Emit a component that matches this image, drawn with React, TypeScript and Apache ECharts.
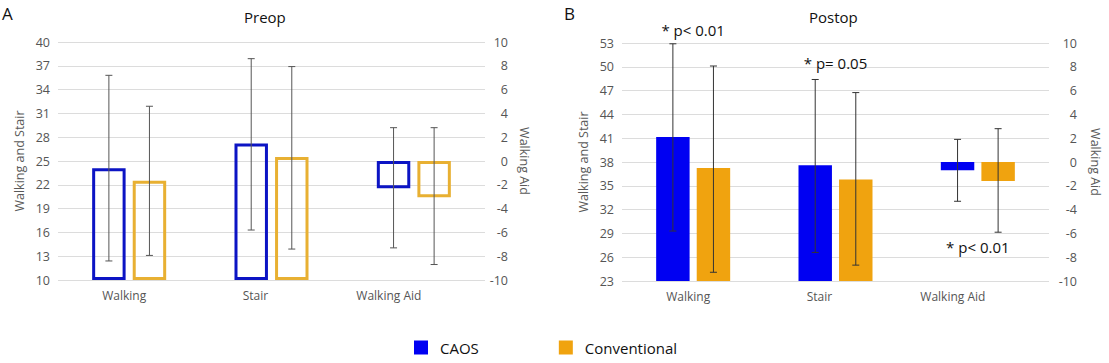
import React, { useEffect, useRef } from "react";
import * as echarts from "echarts";

// ---------- data ----------
const categories = ["Walking", "Stair", "Walking Aid"];
const seriesNames = ["CAOS", "Conventional"];

// Preop (Walking, Stair on left axis; Walking Aid on right axis)
const preopCaos = [24.1, 27.2, -2.3];
const preopCaosLow = [12.4, 16.3, -7.3];
const preopCaosHigh = [35.8, 37.9, 2.8];
const preopConv = [22.5, 25.5, -3.05];
const preopConvLow = [13.1, 13.9, -8.7];
const preopConvHigh = [31.9, 36.9, 2.8];

// Postop
const postopCaos = [41.15, 37.6, -0.7];
const postopCaosLow = [29.3, 26.6, -3.3];
const postopCaosHigh = [52.9, 48.4, 1.9];
const postopConv = [37.25, 35.8, -1.6];
const postopConvLow = [24.1, 25.0, -5.9];
const postopConvHigh = [50.1, 46.75, 2.8];

// axis ranges
const preopLeftRange = [10, 40, 3];
const postopLeftRange = [23, 53, 3];
const rightRange = [-10, 10, 2];

// p-value annotations (postop): category index, value, axis (0 left / 1 right), text
const annCats = [0, 1, 2];
const annValues = [54.6, 50.45, -7.15];
const annAxis = [0, 0, 1];
const annTexts = ["* p< 0.01", "* p= 0.05", "* p< 0.01"];

// ---------- styles ----------
const FONT = "Open Sans";
const BLUE_FILL = "#0000f2";
const ORANGE_FILL = "#f0a30f";
const BLUE_LINE = "#0c14c4";
const ORANGE_LINE = "#e8b032";
// category labels in the reference sit left of their bar groups
const labelShiftRight = [10, 32, 50];

function rows(vals: number[], lows: number[], highs: number[], idx: number[]) {
  return idx.map((i) => [i, vals[i], lows[i], highs[i]]);
}

function barSeries(
  name: string,
  grid: number,
  yAxisIndex: number,
  data: number[][],
  color: string,
  hollow: boolean,
  base: number,
  side: number,
  errColor: string
) {
  return {
    type: "custom",
    name,
    xAxisIndex: grid,
    yAxisIndex: grid * 2 + yAxisIndex,
    itemStyle: { color },
    encode: { x: 0, y: [1, 2, 3] },
    data,
    z: 3,
    renderItem: (params: any, api: any) => {
      const cat = api.value(0);
      const v = api.value(1);
      const lo = api.value(2);
      const hi = api.value(3);
      const bandW = api.size([1, 0])[0];
      const barW = bandW * 0.235;
      const gap = bandW * 0.05;
      const p = api.coord([cat, v]);
      const cx = p[0] + side * (gap / 2 + barW / 2);
      const yBase = api.coord([cat, base])[1];
      const yTop = p[1];
      const yLo = api.coord([cat, lo])[1];
      const yHi = api.coord([cat, hi])[1];
      const y0 = Math.min(yBase, yTop);
      const h = Math.abs(yBase - yTop);
      const lw = 3;
      const rect = hollow
        ? {
            type: "rect",
            shape: { x: cx - barW / 2 + lw / 2, y: y0 + lw / 2, width: barW - lw, height: Math.max(h - lw, 0) },
            style: { fill: "rgba(255,255,255,0)", stroke: color, lineWidth: lw },
          }
        : {
            type: "rect",
            shape: { x: cx - barW / 2, y: y0, width: barW, height: h },
            style: { fill: color },
          };
      const cap = 3.5;
      const ls = { stroke: errColor, lineWidth: 1 };
      return {
        type: "group",
        children: [
          rect,
          { type: "line", shape: { x1: cx, y1: yLo, x2: cx, y2: yHi }, style: ls, z2: 5 },
          { type: "line", shape: { x1: cx - cap, y1: yHi, x2: cx + cap, y2: yHi }, style: ls, z2: 5 },
          { type: "line", shape: { x1: cx - cap, y1: yLo, x2: cx + cap, y2: yLo }, style: ls, z2: 5 },
        ],
      };
    },
  };
}

function panelSeries(
  grid: number,
  caos: number[], caosLo: number[], caosHi: number[],
  conv: number[], convLo: number[], convHi: number[],
  hollow: boolean, leftBase: number, errColor: string
) {
  const cb = hollow ? BLUE_LINE : BLUE_FILL;
  const co = hollow ? ORANGE_LINE : ORANGE_FILL;
  return [
    barSeries(seriesNames[0], grid, 0, rows(caos, caosLo, caosHi, [0, 1]), cb, hollow, leftBase, -1, errColor),
    barSeries(seriesNames[0], grid, 1, rows(caos, caosLo, caosHi, [2]), cb, hollow, 0, -1, errColor),
    barSeries(seriesNames[1], grid, 0, rows(conv, convLo, convHi, [0, 1]), co, hollow, leftBase, 1, errColor),
    barSeries(seriesNames[1], grid, 1, rows(conv, convLo, convHi, [2]), co, hollow, 0, 1, errColor),
  ];
}

function annotationSeries(grid: number, axis: number) {
  const data = annCats
    .map((c, i) => ({ c, i }))
    .filter((d) => annAxis[d.i] === axis)
    .map((d) => [d.c, annValues[d.i], d.i]);
  return {
    type: "custom",
    xAxisIndex: grid,
    yAxisIndex: grid * 2 + axis,
    data,
    z: 10,
    silent: true,
    renderItem: (params: any, api: any) => {
      const p = api.coord([api.value(0), api.value(1)]);
      const txt = annTexts[api.value(2)];
      return {
        type: "text",
        x: p[0],
        y: p[1],
        style: {
          text: txt,
          fill: "#111",
          font: `15px "${FONT}"`,
          align: "center",
          verticalAlign: "middle",
        },
      };
    },
  };
}

function yAxisLeft(grid: number, range: number[]) {
  return {
    type: "value",
    gridIndex: grid,
    position: "left",
    min: range[0],
    max: range[1],
    interval: range[2],
    name: "Walking and Stair",
    nameLocation: "middle",
    nameGap: 32,
    nameTextStyle: { color: "#595959", fontSize: 12.5, fontFamily: FONT },
    axisLine: { show: false },
    axisTick: { show: false },
    axisLabel: { color: "#555", fontSize: 12.5, fontFamily: FONT, margin: 8 },
    splitLine: { show: true, lineStyle: { color: "#dcdcdc", width: 1 } },
  };
}

function yAxisRight(grid: number, labelMargin: number, nameGap: number) {
  return {
    type: "value",
    gridIndex: grid,
    position: "right",
    min: rightRange[0],
    max: rightRange[1],
    interval: rightRange[2],
    name: "Walking Aid",
    nameLocation: "middle",
    nameRotate: -90,
    nameGap,
    nameTextStyle: { color: "#595959", fontSize: 12.5, fontFamily: FONT },
    axisLine: { show: false },
    axisTick: { show: false },
    axisLabel: { color: "#555", fontSize: 12.5, fontFamily: FONT, margin: labelMargin, align: "right" },
    splitLine: { show: false },
  };
}

function xAxis(grid: number) {
  return {
    type: "category",
    gridIndex: grid,
    data: categories.map((c, i) => ({
      value: c,
      textStyle: { padding: [0, labelShiftRight[i], 0, 0] },
    })),
    axisLine: { show: false },
    axisTick: { show: false },
    axisLabel: { color: "#555", fontSize: 12, fontFamily: FONT, margin: 9 },
  };
}

export default function App() {
  const ref = useRef<HTMLDivElement>(null);
  useEffect(() => {
    if (!ref.current) return;
    const chart = echarts.init(ref.current, undefined, { renderer: "svg" });
    chart.setOption({
      animation: false,
      backgroundColor: "#fff",
      textStyle: { fontFamily: FONT },
      grid: [
        { left: 58, top: 42, width: 427, height: 238 },
        { left: 622, top: 43, width: 427, height: 238 },
      ],
      xAxis: [xAxis(0), xAxis(1)],
      yAxis: [
        yAxisLeft(0, preopLeftRange),
        yAxisRight(0, 23, 33),
        yAxisLeft(1, postopLeftRange),
        yAxisRight(1, 28, 40),
      ],
      legend: {
        left: 409,
        top: 335,
        itemWidth: 14,
        itemHeight: 14,
        itemGap: 80,
        icon: "rect",
        textStyle: { fontSize: 15, color: "#111", fontFamily: FONT, padding: [0, 0, 0, 7] },
        data: [
          { name: seriesNames[0], itemStyle: { color: BLUE_FILL } },
          { name: seriesNames[1], itemStyle: { color: ORANGE_FILL } },
        ],
        selectedMode: false,
      },
      graphic: [
        { type: "text", left: 2, top: 5, style: { text: "A", font: `17px "${FONT}"`, fill: "#111" } },
        { type: "text", left: 564, top: 5, style: { text: "B", font: `17px "${FONT}"`, fill: "#111" } },
        { type: "text", left: 244, top: 9, style: { text: "Preop", font: `15px "${FONT}"`, fill: "#111" } },
        { type: "text", left: 809, top: 9, style: { text: "Postop", font: `15px "${FONT}"`, fill: "#111" } },
      ],
      series: [
        ...panelSeries(0, preopCaos, preopCaosLow, preopCaosHigh, preopConv, preopConvLow, preopConvHigh, true, preopLeftRange[0], "#555"),
        ...panelSeries(1, postopCaos, postopCaosLow, postopCaosHigh, postopConv, postopConvLow, postopConvHigh, false, postopLeftRange[0], "#333"),
        annotationSeries(1, 0),
        annotationSeries(1, 1),
      ],
    });
    return () => chart.dispose();
  }, []);
  return (
    <div
      ref={ref}
      style={{ position: "fixed", left: 0, top: 0, width: 1109, height: 363, background: "#fff" }}
    />
  );
}
